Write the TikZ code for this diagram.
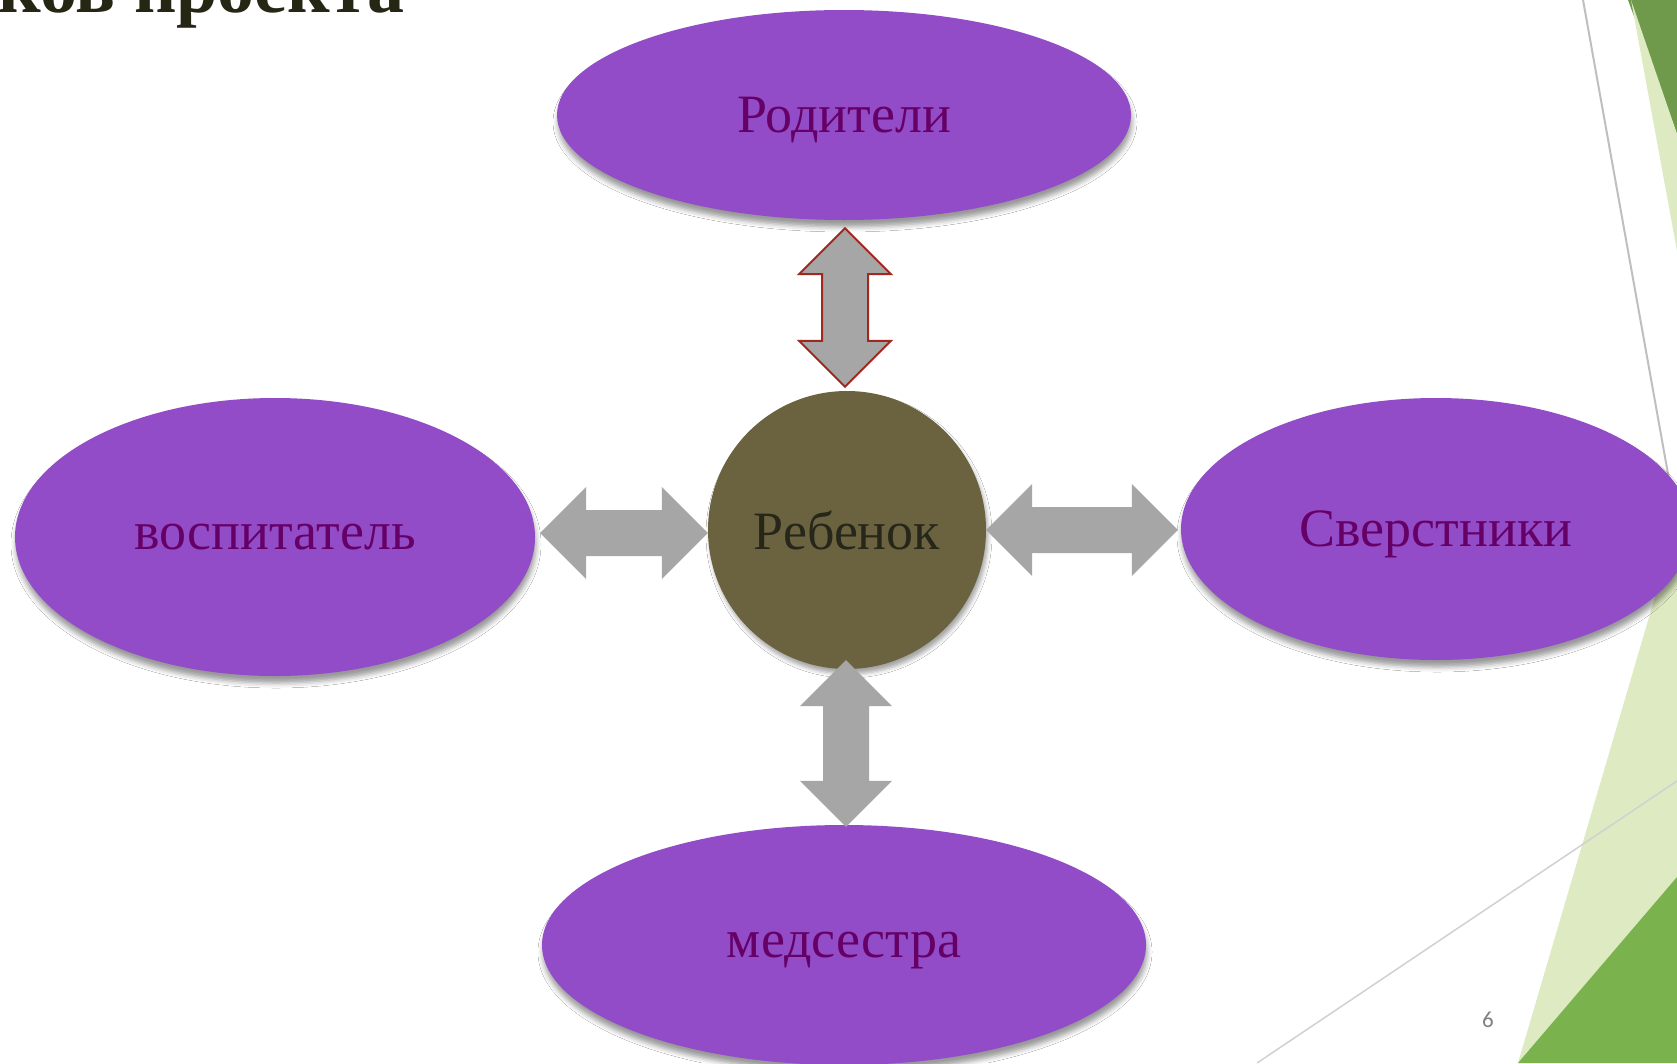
\documentclass[tikz,border=0pt]{standalone}
\usepackage{fontspec}
\setmainfont{Liberation Serif}
\newfontfamily\numfont{Carlito}
\usepackage{tikz}
\usetikzlibrary{calc,shapes.geometric,shadows.blur}
\definecolor{orchid}{HTML}{924CC7}
\definecolor{plum}{HTML}{660066}
\definecolor{kidfill}{HTML}{6B6340}
\definecolor{kidtext}{HTML}{26261A}
\definecolor{arrgray}{HTML}{A6A6A6}
\definecolor{arrred}{HTML}{A0281E}
\definecolor{leafdark}{HTML}{6F9A4B}
\definecolor{leaf}{HTML}{7AB24E}
\definecolor{leaflight}{HTML}{DDEAC2}
\definecolor{ttlcol}{HTML}{262614}
\newcommand{\bigtxt}{\fontsize{54}{60}\selectfont}
\tikzset{
  role/.style    ={ellipse, fill=orchid, text=plum, font=\bigtxt, inner sep=0pt,
                   text depth=0pt,
                   blur shadow={shadow xshift=1pt, shadow yshift=-7pt,
                   shadow blur radius=5pt, shadow opacity=40}},
  childnode/.style={circle, fill=kidfill, text=kidtext, font=\bigtxt, inner sep=0pt,
                   minimum size=278pt,
                   blur shadow={shadow xshift=2pt, shadow yshift=-5pt,
                   shadow blur radius=4pt, shadow opacity=35}},
  blockarr/.style={fill=arrgray},
  redrim/.style  ={draw=arrred, line width=2pt},
  slide/.style   ={draw=black!25, line width=2pt},
  faint/.style   ={draw=black!18, line width=1.5pt},
  ttl/.style     ={inner sep=0pt, text=ttlcol, font=\fontsize{74}{84}\selectfont\bfseries},
  pgnum/.style   ={inner sep=0pt, text=black!50, font=\numfont\fontsize{23}{26}\selectfont},
}
% double block arrow, top tip to bottom tip
\newcommand{\vdbl}[3][]{%
  \path[blockarr,#1] (#2) -- ($(#2)+(46,46)$) -- ($(#2)+(23,46)$) -- ($(#3)+(23,-46)$)
    -- ($(#3)+(46,-46)$) -- (#3) -- ($(#3)+(-46,-46)$) -- ($(#3)+(-23,-46)$)
    -- ($(#2)+(-23,46)$) -- ($(#2)+(-46,46)$) -- cycle;}
% double block arrow, left tip to right tip
\newcommand{\hdbl}[3][]{%
  \path[blockarr,#1] (#2) -- ($(#2)+(46,-46)$) -- ($(#2)+(46,-23)$) -- ($(#3)+(-46,-23)$)
    -- ($(#3)+(-46,-46)$) -- (#3) -- ($(#3)+(-46,46)$) -- ($(#3)+(-46,23)$)
    -- ($(#2)+(46,23)$) -- ($(#2)+(46,46)$) -- cycle;}

\begin{document}
\begin{tikzpicture}[x=1pt,y=-1pt]
\clip (0,0) rectangle (1677,1063);
\fill[white] (0,0) rectangle (1677,1063);

% slide decoration
\fill[leafdark] (1628,0) -- (1677,0) -- (1677,134) -- cycle;
\fill[leaflight] (1631,0) -- (1677,134) -- (1677,251) -- cycle;
\draw[slide] (1583,0) -- (1677,524);
\fill[leaflight] (1518,1063) -- (1677,522) -- (1677,1063) -- cycle;
\fill[leaf] (1518,1063) -- (1677,877) -- (1677,1063) -- cycle;
\draw[faint] (1257,1063) -- (1677,781);

\node[ttl, anchor=base east] (title) at (405,12) {ков проекта};

\node[role, minimum width=574pt, minimum height=210pt] (par) at (844,115) {Родители};
\node[role, minimum width=520pt, minimum height=278pt] (vos) at (275,537) {воспитатель};
\node[role, minimum width=510pt, minimum height=262pt] (sver) at (1436,529) {Сверстники};
\node[role, minimum width=604pt, minimum height=240pt] (med) at (844,945) {медсестра};
\node[childnode] (kid) at (847,530) {Ребенок};

\coordinate (p1) at ($(par.south)+(1,8)$);
\coordinate (p2) at ($(kid.north)+(-2,-4)$);
\coordinate (l1) at ($(vos.east)+(5,-4)$);
\coordinate (l2) at ($(kid.west)+(0,3)$);
\coordinate (r1) at (kid.east);
\coordinate (r2) at ($(sver.west)+(-3,1)$);
\coordinate (q1) at ($(kid.south)+(-1,-9)$);
\coordinate (q2) at ($(med.north)+(2,2)$);

\vdbl[redrim]{p1}{p2}
\hdbl{l1}{l2}
\hdbl{r1}{r2}
\vdbl{q1}{q2}

\node[pgnum] (pg) at (1488,1020) {6};
\end{tikzpicture}
\end{document}
